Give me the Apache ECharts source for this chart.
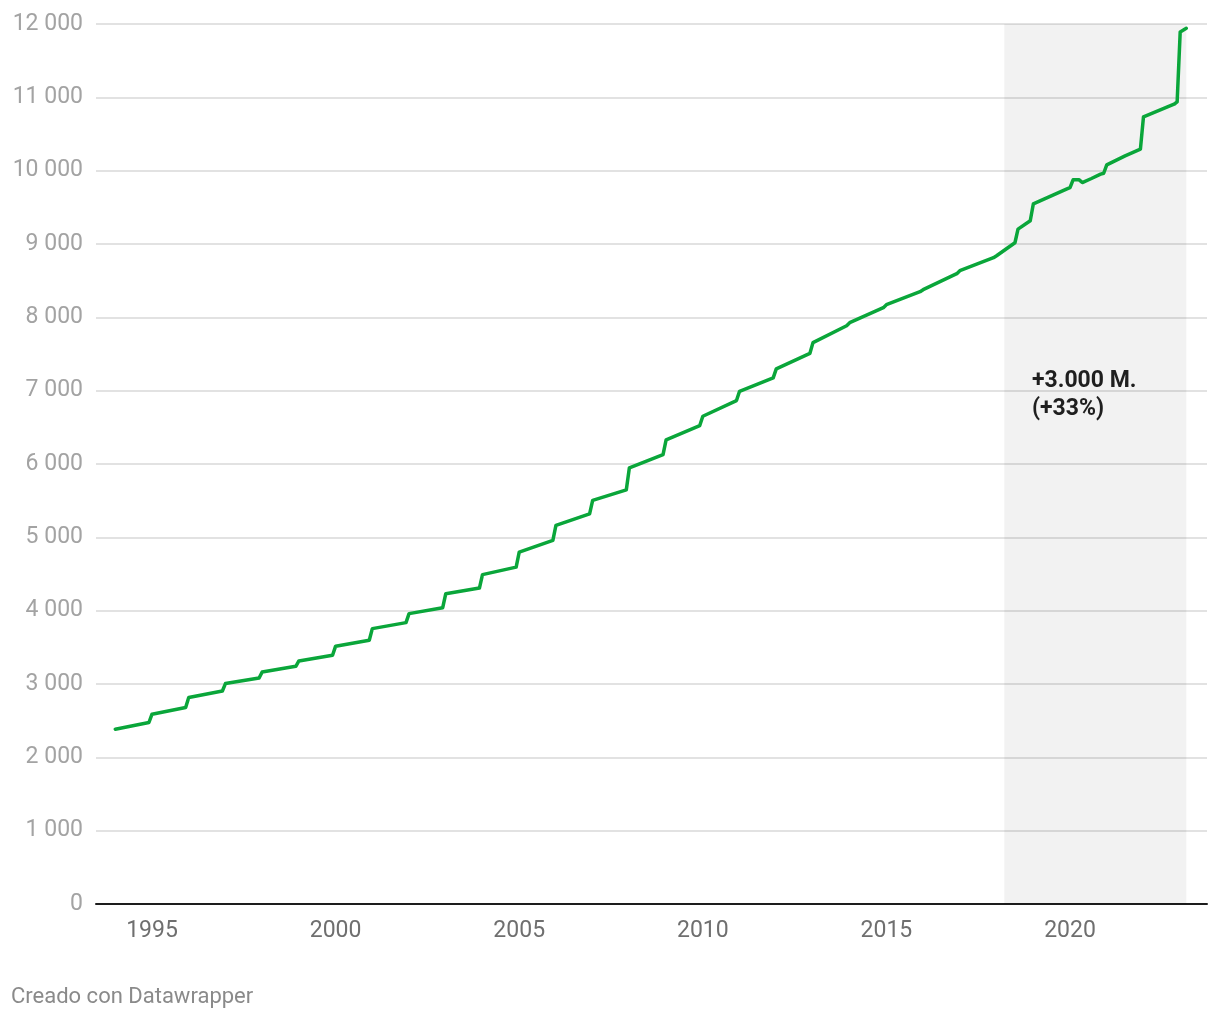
<!DOCTYPE html>
<html>
<head>
<meta charset="utf-8">
<script src="https://cdn.jsdelivr.net/npm/echarts@6/dist/echarts.min.js"></script>
<style>
  html, body { margin: 0; padding: 0; background: #ffffff; }
  #chart { width: 1220px; height: 1020px; }
</style>
</head>
<body>
<div id="chart"></div>
<script>
// Month of each reading (YYYY-MM) and value (millions)
const months = [
  '1994-01','1994-12','1995-01','1995-12','1996-01','1996-12','1997-01','1997-12',
  '1998-01','1998-12','1999-01','1999-12','2000-01','2000-12','2001-01','2001-12',
  '2002-01','2002-12','2003-01','2003-12','2004-01','2004-12','2005-01','2005-12',
  '2006-01','2006-12','2007-01','2007-12','2008-01','2008-12','2009-01','2009-12',
  '2010-01','2010-12','2011-01','2011-12','2012-01','2012-12','2013-01','2013-12',
  '2014-01','2014-12','2015-01','2015-12','2016-01','2016-12','2017-01','2017-12',
  '2018-01','2018-07','2018-08','2018-12','2019-01','2019-12','2020-01','2020-02',
  '2020-04','2020-05','2020-08','2020-11','2020-12','2021-01','2021-07','2021-12',
  '2022-01','2022-11','2022-12','2023-01','2023-03'
];
const values = [
  2384, 2475, 2588, 2679, 2815, 2905, 3006, 3082,
  3164, 3242, 3314, 3392, 3516, 3596, 3755, 3837,
  3960, 4041, 4232, 4308, 4491, 4594, 4799, 4958,
  5162, 5321, 5503, 5648, 5948, 6129, 6330, 6524,
  6651, 6865, 6992, 7174, 7297, 7509, 7655, 7886,
  7927, 8132, 8172, 8350, 8377, 8595, 8636, 8813,
  8840, 9017, 9203, 9317, 9546, 9753, 9770, 9875,
  9875, 9838, 9893, 9952, 9965, 10079, 10202, 10293,
  10733, 10906, 10937, 11891, 11941
];
const xTickYears = [1995, 2000, 2005, 2010, 2015, 2020];
const shadeStart = '2018-03';
const shadeEnd = '2023-03';
const annotationLines = ['+3.000 M.', '(+33%)'];
const footerText = 'Creado con Datawrapper';

// convert 'YYYY-MM' to a decimal year (position on the time scale)
const toYear = s => { const [y, m] = s.split('-').map(Number); return y + (m - 1) / 12; };
const seriesData = months.map((m, i) => [toYear(m), values[i]]);
const FONT = 'Roboto, "Noto Sans", sans-serif';

const chart = echarts.init(document.getElementById('chart'), null, { renderer: 'canvas' });
chart.setOption({
  animation: false,
  backgroundColor: '#ffffff',
  grid: { left: 96, right: 13, top: 24, bottom: 116, containLabel: false },
  xAxis: {
    type: 'value',
    min: 1993.475,
    max: 2023.73,
    axisLine: { show: true, onZero: false, lineStyle: { color: '#1d1d1d', width: 2 } },
    axisTick: { show: false },
    splitLine: { show: false },
    axisLabel: {
      customValues: xTickYears,
      formatter: v => String(Math.round(v)),
      color: '#6f6f6f',
      fontFamily: FONT,
      fontSize: 23,
      margin: 16
    }
  },
  yAxis: {
    type: 'value',
    min: 0,
    max: 12000,
    interval: 1000,
    axisLine: { show: false },
    axisTick: { show: false },
    splitLine: { show: true, lineStyle: { color: '#e2e2e2', width: 2 } },
    axisLabel: {
      formatter: v => String(v).replace(/\B(?=(\d{3})+(?!\d))/g, ' '),
      color: '#a3a3a3',
      fontFamily: FONT,
      fontSize: 23,
      margin: 13
    }
  },
  series: [{
    type: 'line',
    data: seriesData,
    showSymbol: false,
    symbol: 'none',
    lineStyle: { color: '#0aa63a', width: 3.5, join: 'round', cap: 'round' },
    z: 3,
    markArea: {
      silent: true,
      itemStyle: { color: 'rgba(0,0,0,0.05)' },
      data: [[{ xAxis: toYear(shadeStart) + 0.5 / 12 }, { xAxis: toYear(shadeEnd) }]]
    }
  }],
  graphic: [
    {
      type: 'text',
      left: 1032,
      top: 367,
      style: {
        text: annotationLines.join('\n'),
        font: 'bold 23px ' + FONT,
        fill: '#1f1f1f',
        lineHeight: 28
      },
      z: 10
    },
    {
      type: 'text',
      left: 11,
      top: 986,
      style: {
        text: footerText,
        font: '22px ' + FONT,
        fill: '#8a8a8a'
      }
    }
  ]
});
</script>
</body>
</html>
